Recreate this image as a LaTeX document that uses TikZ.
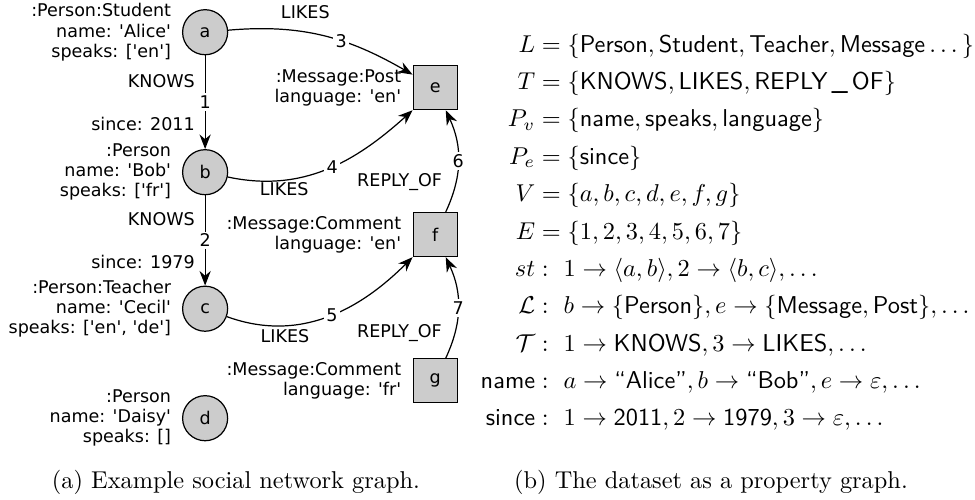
\documentclass[tikz,border=0pt]{standalone}
\usepackage{amsmath}
\usepackage{amssymb}
\usepackage{fontspec}
\newfontfamily\dejavu[Ligatures=TeXOff]{DejaVu Sans}
\newcommand{\gfont}{\dejavu\fontsize{7.2}{8.3}\selectfont}
\usetikzlibrary{positioning,arrows.meta}
\tikzset{
	person/.style={circle,draw,line width=.5pt,fill=gray!40,minimum size=.65cm,inner sep=0pt,font=\gfont},
	message/.style={rectangle,draw,line width=.5pt,fill=gray!40,minimum size=.635cm,inner sep=0pt,font=\gfont},
	props/.style={align=right,inner sep=0pt,font=\gfont},
	elabel/.style={inner sep=0pt,font=\gfont},
	enum/.style={fill=white,inner sep=1pt,font=\gfont},
	rel/.style={-{Stealth[length=6pt,width=4.6pt]},line width=.5pt},
}
\begin{document}
\begin{tikzpicture}
		\useasboundingbox (0,0) rectangle (14.07,7.215);
		\node[person] (a) at (2.96,6.75) {a};
		\node[person] (b) at (2.96,4.73) {b};
		\node[person] (c) at (2.96,2.76) {c};
		\node[person] (d) at (2.96,1.18) {d};
		\node[message] (e) at (6.28,5.95) {e};
		\node[message] (f) at (6.28,3.83) {f};
		\node[message] (g) at (6.28,1.72) {g};
		\node[props,left=4.3pt of a] (la) {:Person:Student\\name: 'Alice'\\speaks: ['en']};
		\node[props,left=4.3pt of b] (lb) {:Person\\name: 'Bob'\\speaks: ['fr']};
		\node[props,left=4.3pt of c] (lc) {:Person:Teacher\\name: 'Cecil'\\speaks: ['en', 'de']};
		\node[props,left=4.3pt of d] (ld) {:Person\\name: 'Daisy'\\speaks: []};
		\node[props,left=4.5pt of e] (le) {:Message:Post\\language: 'en'};
		\node[props,left=4.5pt of f] (lf) {:Message:Comment\\language: 'en'};
		\node[props,left=4.5pt of g] (lg) {:Message:Comment\\language: 'fr'};

		\draw[rel] (a) -- node[enum] (n1) {1} (b);
		\node[elabel,above left=2pt and .5pt of n1] {KNOWS};
		\node[elabel,below left=2pt and .5pt of n1] {since: 2011};
		\draw[rel] (b) -- node[enum] (n2) {2} (c);
		\node[elabel,above left=2pt and .5pt of n2] {KNOWS};
		\node[elabel,below left=2pt and .5pt of n2] {since: 1979};
		\draw[rel] (a) to[out=5,in=150] node[enum,pos=.6] (n3) {3} (e);
		\node[elabel,above left=5pt and 1pt of n3] {LIKES};
		\draw[rel] (b) to[out=-12,in=222] node[enum,pos=.53] (n4) {4} (e.south west);
		\node[elabel,below left=2.5pt and 6pt of n4] {LIKES};
		\draw[rel] (c) to[out=-20,in=225] node[enum,pos=.53] (n5) {5} (f.south west);
		\node[elabel,below left=2pt and 5.5pt of n5] {LIKES};
		\draw[rel] (f) to[out=65,in=-65] node[enum] (n6) {6} (e);
		\node[elabel,below left=1pt and 3pt of n6] {REPLY\_OF};
		\draw[rel] (g) to[out=65,in=-65] node[enum] (n7) {7} (f);
		\node[elabel,below left=3pt and 3pt of n7] {REPLY\_OF};

		\node[anchor=west,inner sep=0pt] (defs) at (6.93,3.85) {\setlength{\jot}{3.35pt}$\begin{aligned}
			L &= \{\textsf{Person}, \textsf{Student}, \textsf{Teacher}, \textsf{Message}\dots\}\\
			T &= \{\textsf{KNOWS}, \textsf{LIKES}, \textsf{REPLY\,\_\,OF}\}\\
			P_v &= \{\textsf{name}, \textsf{speaks}, \textsf{language}\}\\
			P_e &= \{\textsf{since}\}\\
			V &= \{a,b,c,d,e,f,g\}\\
			E &= \{1,2,3,4,5,6,7\}\\
			st &:\ 1\to\langle a,b\rangle, 2\to\langle b,c\rangle,\dots\\
			\mathcal{L} &:\ b\to\{\textsf{Person}\}, e\to\{\textsf{Message},\textsf{Post}\},\dots\\
			\mathcal{T} &:\ 1\to\textsf{KNOWS}, 3\to\textsf{LIKES},\dots\\
			\textsf{name} &:\ a\to\textsf{``Alice''}, b\to\textsf{``Bob''}, e\to\varepsilon,\dots\\
			\textsf{since} &:\ 1\to\textsf{2011}, 2\to\textsf{1979}, 3\to\varepsilon,\dots
		\end{aligned}$};
		\node (capa) at (3.405,.26) {(a) Example social network graph.};
		\node (capb) at (10.26,.26) {(b) The dataset as a property graph.};
\end{tikzpicture}
\end{document}
